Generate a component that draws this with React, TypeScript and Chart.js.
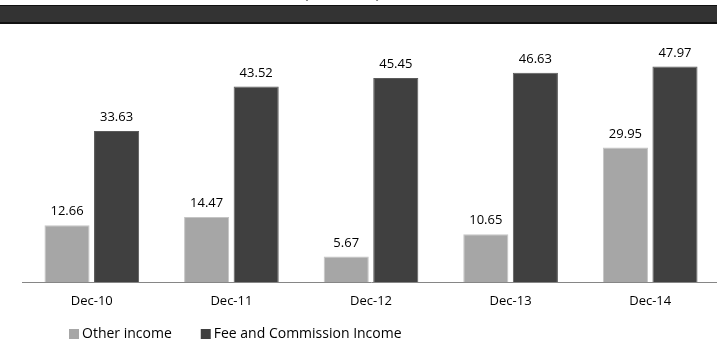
import React, { useEffect, useRef } from "react";
import { Chart, registerables } from "chart.js";

Chart.register(...registerables);

const categories = ["Dec-10", "Dec-11", "Dec-12", "Dec-13", "Dec-14"];
const otherIncome = [12.66, 14.47, 5.67, 10.65, 29.95];
const feeIncome = [33.63, 43.52, 45.45, 46.63, 47.97];
const seriesNames = ["Other income", "Fee and Commission Income"];
const headerTitle = "(Rs. Crore)";

const FONT = "'Open Sans', 'Noto Sans', sans-serif";

const headerPlugin = {
  id: "headerBar",
  beforeDraw(chart: any) {
    const { ctx, width } = chart;
    ctx.save();
    ctx.fillStyle = "#111111";
    ctx.fillRect(0, 5, width, 19);
    ctx.fillStyle = "#333333";
    ctx.fillRect(0, 6, width, 16);
    ctx.fillStyle = "#000";
    ctx.font = `bold 15px ${FONT}`;
    ctx.textAlign = "center";
    ctx.textBaseline = "alphabetic";
    ctx.fillText(headerTitle, 342, -2.5);
    ctx.restore();
  },
};

const valueLabelPlugin = {
  id: "valueLabels",
  afterDatasetsDraw(chart: any) {
    const { ctx } = chart;
    ctx.save();
    ctx.fillStyle = "#000";
    ctx.font = `13px ${FONT}`;
    ctx.textAlign = "center";
    ctx.textBaseline = "alphabetic";
    chart.data.datasets.forEach((ds: any, i: number) => {
      const meta = chart.getDatasetMeta(i);
      meta.data.forEach((el: any, j: number) => {
        ctx.fillText(Number(ds.data[j]).toFixed(2), el.x, el.y - 10);
      });
    });
    ctx.restore();
  },
};

const legendPlugin = {
  id: "customLegend",
  afterDraw(chart: any) {
    const { ctx } = chart;
    ctx.save();
    ctx.font = `14px ${FONT}`;
    ctx.textBaseline = "middle";
    ctx.textAlign = "left";
    let x = 69;
    const y = 329;
    chart.data.datasets.forEach((ds: any) => {
      ctx.fillStyle = ds.backgroundColor;
      ctx.fillRect(x, y, 10, 10);
      ctx.fillStyle = "#000";
      ctx.fillText(ds.label, x + 13, y + 5);
      x += 13 + ctx.measureText(ds.label).width + 29;
    });
    ctx.restore();
  },
};

export default function App() {
  const ref = useRef<HTMLCanvasElement | null>(null);

  useEffect(() => {
    document.body.style.margin = "0";
    document.body.style.overflow = "hidden";
    const canvas = ref.current;
    if (!canvas) return;
    const chart = new Chart(canvas, {
      type: "bar",
      data: {
        labels: categories,
        datasets: [
          {
            label: seriesNames[0],
            data: otherIncome,
            backgroundColor: "#a6a6a6",
            borderColor: "#c4c4c4",
            borderWidth: 1,
            categoryPercentage: 0.71,
            barPercentage: 0.91,
          },
          {
            label: seriesNames[1],
            data: feeIncome,
            backgroundColor: "#404040",
            borderColor: "#5a5a5a",
            borderWidth: 1,
            categoryPercentage: 0.71,
            barPercentage: 0.91,
          },
        ],
      },
      options: {
        responsive: false,
        animation: false,
        devicePixelRatio: 1,
        layout: { padding: { left: 22, right: 0, top: 57.5, bottom: 0 } },
        plugins: {
          legend: { display: false },
          tooltip: { enabled: false },
          title: { display: false },
        },
        scales: {
          x: {
            grid: { display: false, drawTicks: false },
            border: { display: true, color: "#868686", width: 1 },
            ticks: {
              color: "#000",
              font: { family: FONT, size: 13 },
              padding: 11,
            },
            afterFit(scale: any) {
              scale.height = 60;
            },
          },
          y: {
            display: false,
            min: 0,
            max: 50,
          },
        },
      },
      plugins: [headerPlugin, valueLabelPlugin, legendPlugin],
    });
    return () => chart.destroy();
  }, []);

  return (
    <div style={{ width: 717, height: 342, overflow: "hidden", position: "relative" }}>
      <canvas ref={ref} width={720} height={342} style={{ display: "block" }} />
    </div>
  );
}
